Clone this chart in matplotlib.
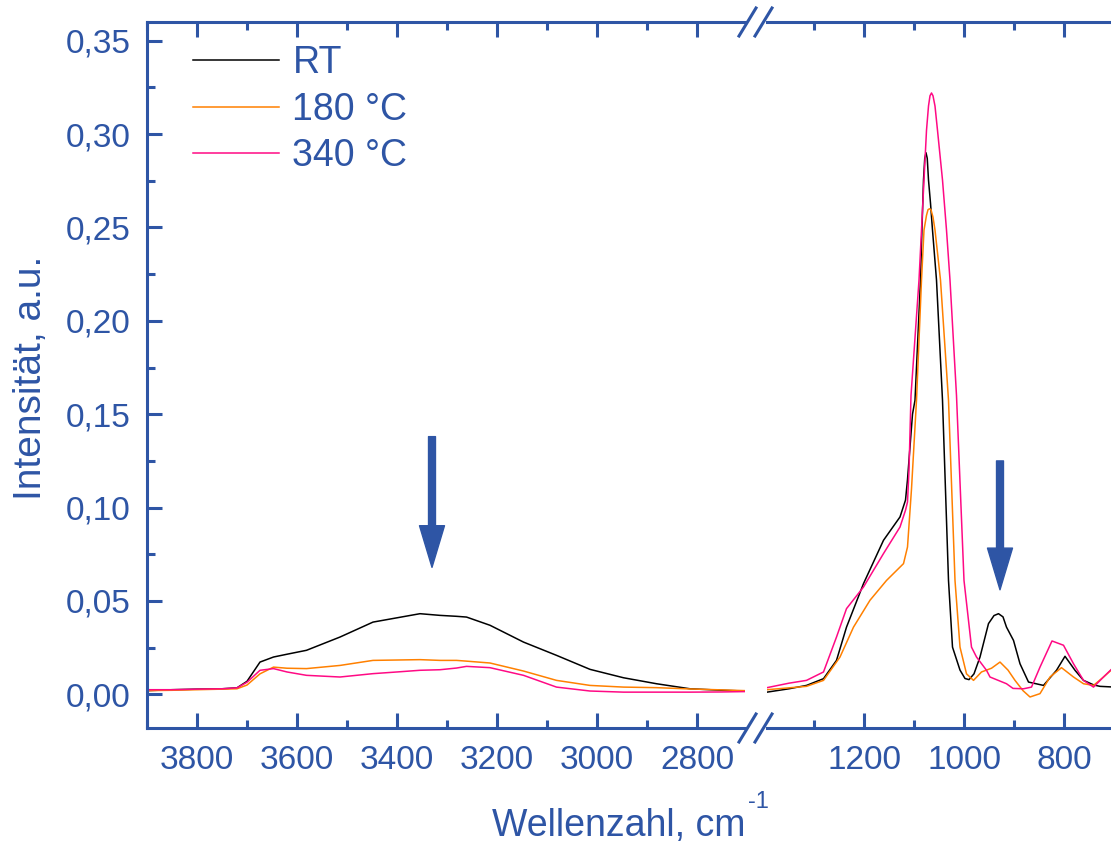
import numpy as np
import matplotlib.pyplot as plt
from matplotlib.lines import Line2D
from matplotlib.ticker import MultipleLocator, FuncFormatter

plt.rcParams['font.family'] = ['Liberation Sans', 'DejaVu Sans']
plt.rcParams['mathtext.default'] = 'regular'

BLUE = '#2E55A5'
C_RT = '#000000'
C_180 = '#FF8000'
C_340 = '#FF0A84'

# left part of the spectrum (O-H region)
wn_left = [3900, 3850, 3800, 3750, 3720, 3700, 3674, 3647, 3620, 3581, 3514, 3448, 3400,
           3354, 3314, 3281, 3261, 3214, 3147, 3081, 3014, 2947, 2881, 2814, 2750, 2704]
rt_left = [0.0020, 0.0025, 0.0028, 0.0030, 0.0035, 0.0070, 0.0173, 0.0200, 0.0215, 0.0236,
           0.0307, 0.0387, 0.0410, 0.0432, 0.0423, 0.0418, 0.0414, 0.0370, 0.0280, 0.0209,
           0.0134, 0.0089, 0.0057, 0.0030, 0.0022, 0.0018]
c180_left = [0.0020, 0.0022, 0.0025, 0.0028, 0.0030, 0.0050, 0.0110, 0.0146, 0.0140, 0.0138,
             0.0155, 0.0182, 0.0184, 0.0186, 0.0182, 0.0182, 0.0178, 0.0168, 0.0125, 0.0075,
             0.0048, 0.0039, 0.0036, 0.0029, 0.0024, 0.0020]
c340_left = [0.0025, 0.0025, 0.0028, 0.0030, 0.0035, 0.0065, 0.0129, 0.0138, 0.0120, 0.0102,
             0.0093, 0.0111, 0.0120, 0.0129, 0.0132, 0.0141, 0.0150, 0.0143, 0.0102, 0.0039,
             0.0018, 0.0012, 0.0012, 0.0012, 0.0013, 0.0015]

# right part (Si-O region)
wn_rt = [1394, 1350, 1315, 1281, 1255, 1235, 1201, 1161, 1128, 1117, 1113, 1103, 1098, 1087,
         1084, 1081, 1078.5, 1076, 1073.5, 1071, 1067, 1063, 1055, 1043, 1031, 1023, 1008, 998,
         990, 980, 968, 951, 940, 931, 922, 915, 901, 888, 871, 841, 815, 798, 778, 761, 740,
         728, 706]
rt_right = [0.0012, 0.0030, 0.0048, 0.0084, 0.0182, 0.0360, 0.0593, 0.0825, 0.0950, 0.1040,
            0.1150, 0.1500, 0.1575, 0.2218, 0.2500, 0.2754, 0.2870, 0.2900, 0.2870, 0.2754,
            0.2630, 0.2486, 0.2218, 0.1575, 0.0610, 0.0253, 0.0130, 0.0085, 0.0079, 0.0110,
            0.0200, 0.0379, 0.0422, 0.0432, 0.0415, 0.0360, 0.0289, 0.0164, 0.0066, 0.0048,
            0.0129, 0.0204, 0.0129, 0.0075, 0.0050, 0.0043, 0.0040]

wn_180 = [1394, 1350, 1315, 1281, 1248, 1221, 1188, 1155, 1121, 1113, 1105, 1095, 1085, 1080,
          1075, 1072, 1069, 1066, 1062, 1058, 1047, 1031, 1018, 1008, 995, 981, 965, 945, 928,
          912, 898, 882, 868, 848, 828, 805, 781, 761, 741, 721, 706]
c180_right = [0.0025, 0.0035, 0.0043, 0.0075, 0.0200, 0.0360, 0.0504, 0.0610, 0.0700, 0.0789,
              0.1100, 0.1575, 0.2218, 0.2486, 0.2565, 0.2595, 0.2600, 0.2595, 0.2555, 0.2486,
              0.2218, 0.1575, 0.0610, 0.0253, 0.0110, 0.0075, 0.0120, 0.0140, 0.0173, 0.0130,
              0.0075, 0.0020, -0.0014, 0.0004, 0.0093, 0.0143, 0.0093, 0.0057, 0.0048, 0.0093,
              0.0129]

wn_340 = [1394, 1350, 1315, 1281, 1255, 1235, 1201, 1161, 1128, 1117, 1113, 1110, 1106, 1090,
          1080, 1075, 1071, 1068, 1065, 1062, 1058, 1053, 1043, 1035, 1028, 1015, 1000, 985,
          975, 955, 948, 915, 902, 881, 865, 848, 824, 801, 781, 761, 741, 721, 706]
c340_right = [0.0036, 0.0060, 0.0075, 0.0120, 0.0307, 0.0459, 0.0575, 0.0754, 0.0896, 0.0986,
              0.1030, 0.1200, 0.1600, 0.2218, 0.2754, 0.3020, 0.3150, 0.3205, 0.3220, 0.3205,
              0.3150, 0.3020, 0.2754, 0.2486, 0.2218, 0.1600, 0.0610, 0.0253, 0.0200, 0.0129,
              0.0093, 0.0057, 0.0032, 0.0030, 0.0039, 0.0146, 0.0286, 0.0263, 0.0164, 0.0075,
              0.0039, 0.0093, 0.0132]

labels = ['RT', '180 °C', '340 °C']
y_ticks = [0.0, 0.05, 0.10, 0.15, 0.20, 0.25, 0.30, 0.35]

W, H = 1111, 849
fig = plt.figure(figsize=(W / 100, H / 100), dpi=100)


def fx(px):
    return px / W


def fy(py):
    return 1 - py / H


axL = fig.add_axes([fx(147), fy(728), fx(745) - fx(147), fy(22) - fy(728)])
axR = fig.add_axes([fx(767), fy(728), fx(1111) - fx(767), fy(22) - fy(728)])

lw = 1.1
axL.plot(wn_left, rt_left, color=C_RT, lw=lw, label=labels[0])
axL.plot(wn_left, c180_left, color=C_180, lw=lw, label=labels[1])
axL.plot(wn_left, c340_left, color=C_340, lw=lw, label=labels[2])
axR.plot(wn_rt, rt_right, color=C_RT, lw=lw)
axR.plot(wn_180, c180_right, color=C_180, lw=lw)
axR.plot(wn_340, c340_right, color=C_340, lw=lw)

axL.set_xlim(3900, 2704)
axR.set_xlim(1394, 706)
for ax in (axL, axR):
    ax.set_ylim(-0.018, 0.36)
    for s in ax.spines.values():
        s.set_color(BLUE)
        s.set_linewidth(2.2)
    ax.spines['right'].set_visible(False)
    ax.tick_params(which='both', direction='in', top=True, colors=BLUE,
                   labelsize=24, width=2.2)
    ax.tick_params(which='major', length=11, pad=12)
    ax.tick_params(which='minor', length=6)
    ax.xaxis.set_major_locator(MultipleLocator(200))
    ax.xaxis.set_minor_locator(MultipleLocator(100))

axR.spines['left'].set_visible(False)
axR.tick_params(axis='y', which='both', left=False, labelleft=False)

axL.set_yticks(y_ticks)
axL.yaxis.set_minor_locator(MultipleLocator(0.025))
axL.yaxis.set_major_formatter(FuncFormatter(lambda v, p: f'{v:.2f}'.replace('.', ',')))
axL.set_xticks([3800, 3600, 3400, 3200, 3000, 2800])
axR.set_xticks([1200, 1000, 800])

# arrows
arrow = dict(width=5, headwidth=18, headlength=30, color=BLUE, shrink=0)
axL.annotate('', xy=(3330, 0.068), xytext=(3330, 0.138), arrowprops=arrow)
axR.annotate('', xy=(928, 0.056), xytext=(928, 0.125), arrowprops=arrow)

leg = axL.legend(loc='upper left', bbox_to_anchor=(0.077, 0.967), frameon=False,
                 fontsize=27, handlelength=2.3, handletextpad=0.35, labelspacing=0.28,
                 borderpad=0, borderaxespad=0)
for t in leg.get_texts():
    t.set_color(BLUE)

# axis break marks
for ybase in (22, 728):
    for x0 in (739, 755):
        fig.add_artist(Line2D([fx(x0), fx(x0 + 17)], [fy(ybase + 14), fy(ybase - 14)],
                              color=BLUE, lw=2.2, transform=fig.transFigure))

fig.text(fx(492), fy(826), 'Wellenzahl, cm', ha='left', va='center',
         fontsize=27, color=BLUE)
fig.text(fx(748), fy(802), '-1', ha='left', va='center', fontsize=17, color=BLUE)
fig.text(fx(31), fy(378), 'Intensität, a.u.', ha='center', va='center', rotation=90,
         fontsize=28, color=BLUE)

fig.savefig('out.png', dpi=100)
